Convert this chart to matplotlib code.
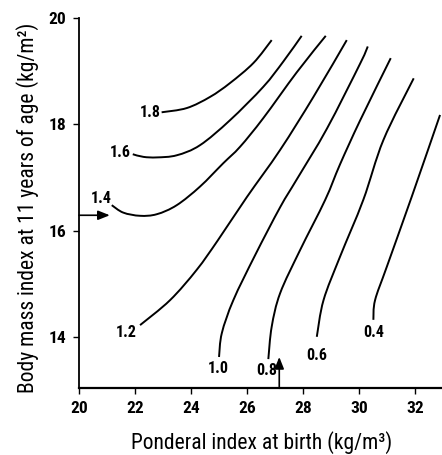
import matplotlib
matplotlib.use("Agg")
import matplotlib.pyplot as plt
from matplotlib import font_manager
from matplotlib.path import Path
from matplotlib.patches import PathPatch

# ---- data ----
levels = ["1.8", "1.6", "1.4", "1.2", "1.0", "0.8", "0.6", "0.4"]

x_18 = [22.95, 23.85, 24.68, 25.39, 26.23, 26.88]
y_18 = [18.23, 18.31, 18.52, 18.78, 19.16, 19.59]

x_16 = [21.92, 22.30, 22.78, 23.49, 24.32, 25.39, 26.58, 27.30, 27.95]
y_16 = [17.44, 17.39, 17.38, 17.42, 17.61, 18.08, 18.71, 19.19, 19.67]

x_14 = [21.17, 21.58, 22.18, 22.78, 23.49, 24.32, 25.15, 25.75, 26.58, 27.77, 28.81]
y_14 = [16.48, 16.34, 16.28, 16.31, 16.48, 16.83, 17.27, 17.58, 18.12, 18.98, 19.67]

x_12 = [22.18, 23.25, 24.20, 24.96, 25.99, 27.18, 28.37, 29.56]
y_12 = [14.22, 14.69, 15.26, 15.82, 16.63, 17.52, 18.52, 19.59]

x_10 = [25.00, 25.10, 25.51, 26.29, 27.18, 27.78, 28.85, 30.04, 30.31]
y_10 = [13.62, 14.07, 14.69, 15.54, 16.44, 16.97, 17.92, 19.15, 19.47]

x_08 = [26.76, 26.88, 27.18, 27.89, 28.79, 29.32, 30.04, 31.13]
y_08 = [13.58, 14.19, 14.82, 15.63, 16.58, 17.25, 18.08, 19.25]

x_06 = [28.49, 28.73, 29.32, 30.15, 30.87, 31.95]
y_06 = [14.00, 14.69, 15.51, 16.58, 17.71, 18.87]

x_04 = [30.51, 30.57, 30.99, 31.88, 32.89]
y_04 = [14.32, 14.69, 15.32, 16.64, 18.18]

curves_x = [x_18, x_16, x_14, x_12, x_10, x_08, x_06, x_04]
curves_y = [y_18, y_16, y_14, y_12, y_10, y_08, y_06, y_04]

label_x = [22.54, 21.46, 20.81, 21.70, 24.98, 26.70, 28.49, 30.51]
label_y = [18.22, 17.47, 16.60, 14.09, 13.40, 13.37, 13.64, 14.08]

arrow_h = (20.0, 21.1, 16.29)   # x start, x end, y
arrow_v = (27.15, 13.03, 13.62)  # x, y start, y end

x_ticks = [20, 22, 24, 26, 28, 30, 32]
y_ticks = [14, 16, 18, 20]

x_title = "Ponderal index at birth (kg/m³)"
y_title = "Body mass index at 11 years of age (kg/m²)"

# ---- fonts ----
avail = {f.name for f in font_manager.fontManager.ttflist}
narrow = "DejaVu Sans"
for cand in ["Liberation Sans Narrow", "Roboto Condensed", "DejaVu Sans Condensed",
             "Liberation Sans", "Roboto"]:
    if cand in avail:
        narrow = cand
        break


def smooth_path(xs, ys):
    """Smooth curve through the read points (Catmull-Rom as cubic Bezier)."""
    pts = list(zip(xs, ys))
    verts = [pts[0]]
    codes = [Path.MOVETO]
    n = len(pts)
    for i in range(n - 1):
        p0 = pts[i - 1] if i > 0 else pts[i]
        p1 = pts[i]
        p2 = pts[i + 1]
        p3 = pts[i + 2] if i + 2 < n else pts[i + 1]
        c1 = (p1[0] + (p2[0] - p0[0]) / 6.0, p1[1] + (p2[1] - p0[1]) / 6.0)
        c2 = (p2[0] - (p3[0] - p1[0]) / 6.0, p2[1] - (p3[1] - p1[1]) / 6.0)
        verts += [c1, c2, p2]
        codes += [Path.CURVE4, Path.CURVE4, Path.CURVE4]
    return Path(verts, codes)


fig = plt.figure(figsize=(4.42, 4.55), dpi=100)
ax = fig.add_axes([0.1787, 0.1466, 0.8213, 0.8131])

for cx, cy in zip(curves_x, curves_y):
    ax.add_patch(PathPatch(smooth_path(cx, cy), facecolor="none",
                           edgecolor="black", lw=1.4, capstyle="butt"))

for lab, lx, ly in zip(levels, label_x, label_y):
    ax.text(lx, ly, lab, ha="center", va="center", fontsize=11.5,
            fontweight="bold", family=narrow)

ax.annotate("", xy=(arrow_h[1], arrow_h[2]), xytext=(arrow_h[0], arrow_h[2]),
            arrowprops=dict(arrowstyle="-|>,head_length=0.5,head_width=0.2",
                            color="black", lw=1.2, mutation_scale=14,
                            shrinkA=0, shrinkB=0))
ax.annotate("", xy=(arrow_v[0], arrow_v[2]), xytext=(arrow_v[0], arrow_v[1]),
            arrowprops=dict(arrowstyle="-|>,head_length=0.5,head_width=0.2",
                            color="black", lw=1.2, mutation_scale=14,
                            shrinkA=0, shrinkB=0))

ax.set_xlim(20, 32.96)
ax.set_ylim(13.03, 20.0)
ax.set_xticks(x_ticks)
ax.set_yticks(y_ticks)
ax.set_xticklabels([str(t) for t in x_ticks], fontsize=12.5, fontweight="bold",
                   family=narrow)
ax.set_yticklabels([str(t) for t in y_ticks], fontsize=12.5, fontweight="bold",
                   family=narrow)
ax.tick_params(direction="out", length=4, width=1, pad=5)

for s in ["top", "right"]:
    ax.spines[s].set_visible(False)
ax.spines["left"].set_linewidth(1.3)
ax.spines["bottom"].set_linewidth(1.6)

fig.text(262 / 442, 1 - 443 / 455, x_title, ha="center", va="center",
         fontsize=15.5, family=narrow)
fig.text(28 / 442, 1 - 208 / 455, y_title, ha="center", va="center",
         rotation=90, fontsize=15.5, family=narrow)

fig.savefig("out.png", dpi=100)
